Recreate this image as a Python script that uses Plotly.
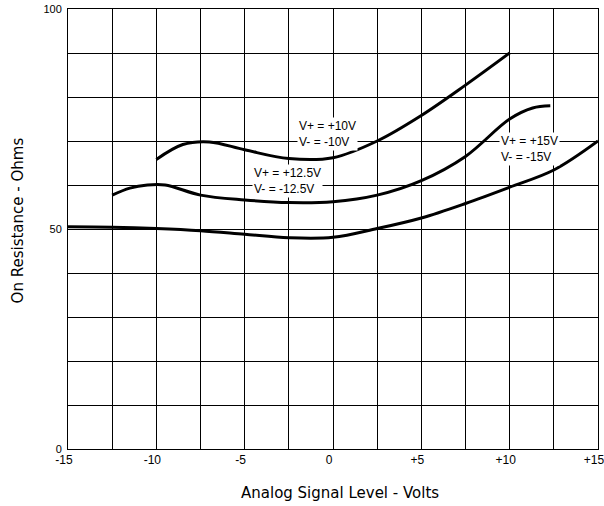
import plotly.graph_objects as go

# Curve data (volts, ohms)
v15 = [-15, -12.5, -10, -7.5, -5, -2.5, 0, 2.5, 5, 7.5, 10, 12.5, 15]
r15 = [50.5, 50.4, 50.1, 49.6, 48.8, 48.0, 48.1, 50.1, 52.5, 55.8, 59.5, 63.4, 70]

v125 = [-12.5, -11.5, -10.5, -9.5, -7.5, -5, -2.5, 0, 2.5, 5, 7.5, 10, 11.3, 12.3]
r125 = [57.7, 59.3, 60.0, 60.0, 57.7, 56.6, 56.0, 56.2, 57.7, 61.0, 66.5, 75.0, 77.5, 78.0]

v10 = [-10, -8.5, -7, -5, -2.5, 0, 2.5, 5, 7.5, 10]
r10 = [65.8, 69.2, 69.8, 68.0, 66.0, 66.2, 70.0, 75.8, 82.7, 90.0]

x_ticks = [-15, -12.5, -10, -7.5, -5, -2.5, 0, 2.5, 5, 7.5, 10, 12.5, 15]
x_labels = ["-15", "", "-10", "", "-5", "", "0", "", "+5", "", "+10", "", "+15"]
y_ticks = [0, 10, 20, 30, 40, 50, 60, 70, 80, 90, 100]
y_labels = ["0", "", "", "", "", "50", "", "", "", "", "100"]

labels_text = ["V+ = +10V<br>V- = -10V", "V+ = +12.5V<br>V- = -12.5V", "V+ = +15V<br>V- = -15V"]
labels_x = [-0.3, -2.55, 11.15]
labels_y = [71.5, 60.9, 68.2]

x_title = "Analog Signal Level - Volts"
y_title = "On Resistance - Ohms"

FONT = "Liberation Sans, Arial, sans-serif"
TITLE_FONT = "DejaVu Sans, sans-serif"

fig = go.Figure()
for vx, ry in [(v15, r15), (v125, r125), (v10, r10)]:
    fig.add_trace(go.Scatter(x=vx, y=ry, mode="lines",
                             line=dict(color="black", width=3, shape="spline", smoothing=1.0),
                             showlegend=False, hoverinfo="skip"))

for t, lx, ly in zip(labels_text, labels_x, labels_y):
    fig.add_annotation(x=lx, y=ly, text=t, showarrow=False, align="left",
                       bgcolor="white", borderpad=1,
                       font=dict(family=FONT, size=12, color="black"))

fig.add_annotation(xref="paper", yref="paper", x=0.513, y=-0.1, yanchor="middle",
                   text=x_title, showarrow=False,
                   font=dict(family=TITLE_FONT, size=15, color="black"))
fig.add_annotation(xref="paper", yref="paper", x=-0.094, y=0.52, xanchor="center",
                   yanchor="middle", text=y_title, textangle=-90, showarrow=False,
                   font=dict(family=TITLE_FONT, size=15, color="black"))

fig.update_layout(
    width=604, height=506,
    margin=dict(l=68, r=6, t=9, b=57),
    paper_bgcolor="white", plot_bgcolor="white",
    font=dict(family=FONT, color="black"),
)
fig.update_xaxes(range=[-15, 15], tickvals=x_ticks, ticktext=x_labels,
                 showgrid=True, gridcolor="black", gridwidth=1,
                 showline=True, linecolor="black", linewidth=1, mirror=True,
                 zeroline=False, ticks="", tickfont=dict(size=12),
                 automargin=False, ticklabeloverflow="allow", ticklabelshift=-4)
fig.update_yaxes(range=[0, 100], tickvals=y_ticks, ticktext=y_labels,
                 showgrid=True, gridcolor="black", gridwidth=1,
                 showline=True, linecolor="black", linewidth=1, mirror=True,
                 zeroline=False, ticks="", tickfont=dict(size=11),
                 automargin=False, ticklabeloverflow="allow", ticklabelstandoff=3)

# Remove the browser's default 8px body margin so the 604x506 figure fills the window.
fig.write_html("out.html", config={"displayModeBar": False},
               post_script="document.body.style.margin='0px';")
